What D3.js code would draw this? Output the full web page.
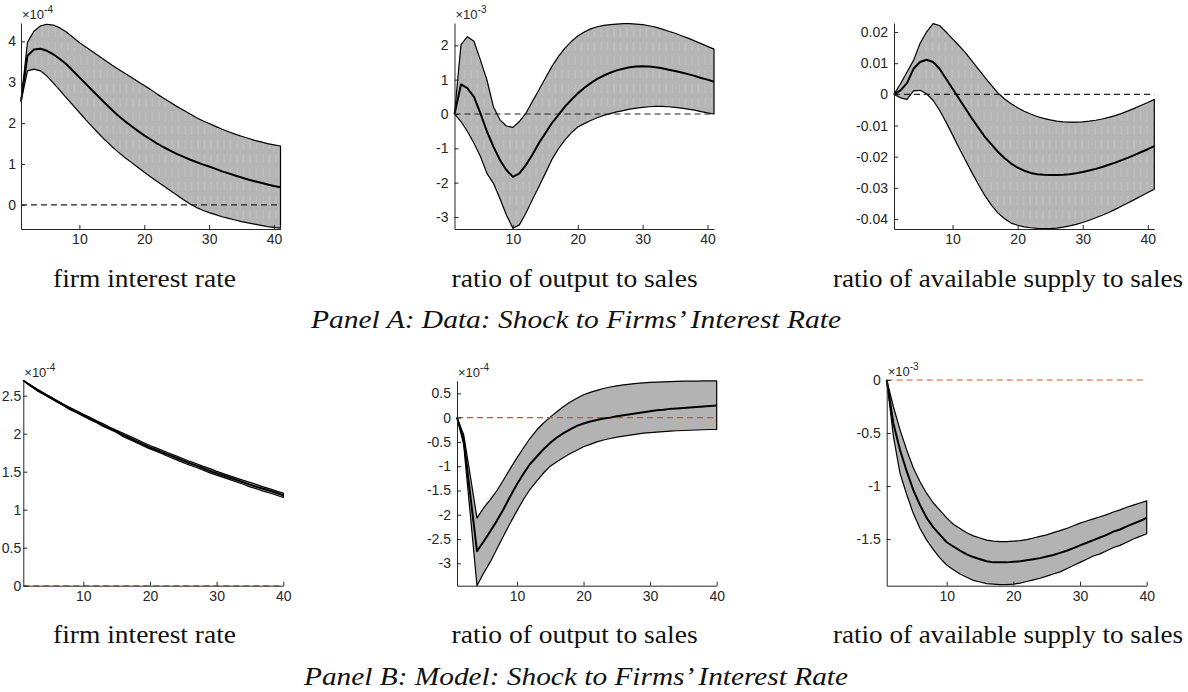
<!DOCTYPE html>
<html>
<head>
<meta charset="utf-8">
<script src="https://cdn.jsdelivr.net/npm/d3@7"></script>
<style>
  body { margin: 0; background: #fff; }
</style>
</head>
<body>
<svg id="fig" width="1188" height="692"></svg>
<script>
// ---- Panel A: data (periods 1..41) ----
const a1Mean  = [2.53,3.65,3.80,3.82,3.77,3.68,3.57,3.44,3.28,3.12,2.96,2.80,2.64,2.48,2.33,2.18,2.05,1.93,1.81,1.70,1.60,1.50,1.41,1.33,1.25,1.18,1.11,1.05,0.99,0.94,0.88,0.82,0.77,0.72,0.67,0.62,0.58,0.54,0.50,0.46,0.43];
const a1Upper = [2.53,3.98,4.25,4.38,4.42,4.40,4.33,4.23,4.10,3.97,3.86,3.75,3.64,3.53,3.42,3.32,3.22,3.12,3.02,2.92,2.82,2.71,2.61,2.51,2.41,2.32,2.23,2.14,2.06,1.99,1.92,1.85,1.79,1.73,1.68,1.63,1.58,1.54,1.50,1.47,1.44];
const a1Lower = [2.53,3.28,3.32,3.28,3.15,2.98,2.80,2.62,2.44,2.26,2.08,1.91,1.74,1.58,1.43,1.29,1.16,1.04,0.92,0.80,0.68,0.57,0.46,0.35,0.24,0.13,0.03,-0.06,-0.13,-0.19,-0.24,-0.29,-0.33,-0.37,-0.41,-0.44,-0.47,-0.50,-0.53,-0.55,-0.57];

const a2Mean  = [0,0.86,0.75,0.50,0.02,-0.51,-0.95,-1.34,-1.63,-1.83,-1.73,-1.49,-1.19,-0.85,-0.56,-0.27,-0.03,0.21,0.41,0.60,0.76,0.90,1.02,1.12,1.20,1.27,1.32,1.36,1.38,1.39,1.38,1.36,1.33,1.29,1.25,1.21,1.16,1.11,1.05,1.00,0.94];
const a2Upper = [0,2.02,2.25,2.12,1.57,0.99,0.21,-0.17,-0.35,-0.39,-0.22,0.02,0.36,0.70,1.04,1.38,1.67,1.91,2.11,2.27,2.39,2.48,2.54,2.58,2.60,2.62,2.63,2.63,2.62,2.60,2.57,2.53,2.47,2.41,2.35,2.28,2.21,2.13,2.05,1.97,1.89];
const a2Lower = [0,-0.22,-0.51,-0.85,-1.24,-1.73,-2.02,-2.46,-2.94,-3.33,-3.23,-2.89,-2.50,-2.12,-1.73,-1.33,-1.02,-0.76,-0.55,-0.38,-0.28,-0.19,-0.11,-0.04,0.01,0.06,0.10,0.14,0.17,0.19,0.21,0.22,0.22,0.21,0.19,0.17,0.14,0.11,0.07,0.03,0.0];

const a3Mean  = [0,0.0013,0.0036,0.0082,0.0104,0.0111,0.0104,0.0082,0.0050,0.0018,-0.0014,-0.0046,-0.0078,-0.0108,-0.0137,-0.0161,-0.0185,-0.0205,-0.0222,-0.0235,-0.0245,-0.0252,-0.0256,-0.0258,-0.0259,-0.0259,-0.0258,-0.0256,-0.0253,-0.0249,-0.0244,-0.0239,-0.0233,-0.0226,-0.0219,-0.0211,-0.0203,-0.0194,-0.0185,-0.0176,-0.0166];
const a3Upper = [0,0.0034,0.0072,0.0109,0.0163,0.0200,0.0227,0.0221,0.0200,0.0178,0.0156,0.0133,0.0107,0.0080,0.0054,0.0028,0.0004,-0.0015,-0.0030,-0.0043,-0.0054,-0.0063,-0.0071,-0.0077,-0.0082,-0.0086,-0.0088,-0.0089,-0.0089,-0.0088,-0.0086,-0.0083,-0.0079,-0.0074,-0.0068,-0.0061,-0.0053,-0.0044,-0.0035,-0.0026,-0.0016];
const a3Lower = [0,-0.0011,-0.0016,0.0011,0.0013,0.0002,-0.0019,-0.0051,-0.0089,-0.0130,-0.0172,-0.0212,-0.0252,-0.0290,-0.0326,-0.0356,-0.0381,-0.0399,-0.0413,-0.0420,-0.0425,-0.0428,-0.0430,-0.0431,-0.0431,-0.0429,-0.0426,-0.0422,-0.0417,-0.0411,-0.0404,-0.0396,-0.0388,-0.0379,-0.0369,-0.0358,-0.0348,-0.0337,-0.0326,-0.0315,-0.0304];

// ---- Panel B: model (periods 1..40) ----
const b1Mean  = [2.70,2.64,2.58,2.53,2.48,2.43,2.38,2.33,2.29,2.245,2.20,2.16,2.11,2.07,2.03,1.98,1.94,1.90,1.86,1.82,1.785,1.75,1.715,1.68,1.645,1.61,1.58,1.545,1.51,1.48,1.45,1.42,1.39,1.36,1.33,1.30,1.275,1.25,1.22,1.19];
const b1Upper = [2.70,2.645,2.59,2.54,2.49,2.44,2.39,2.345,2.30,2.255,2.215,2.17,2.13,2.085,2.045,2.005,1.965,1.925,1.885,1.845,1.81,1.775,1.74,1.705,1.67,1.635,1.605,1.57,1.54,1.505,1.475,1.445,1.415,1.385,1.36,1.33,1.30,1.275,1.245,1.22];
const b1Lower = [2.70,2.635,2.57,2.52,2.47,2.42,2.37,2.315,2.275,2.23,2.185,2.145,2.095,2.055,2.015,1.96,1.92,1.88,1.84,1.80,1.765,1.73,1.69,1.655,1.62,1.585,1.555,1.52,1.485,1.455,1.425,1.395,1.365,1.335,1.30,1.275,1.245,1.22,1.19,1.16];

const b2Mean  = [0,-0.45,-1.60,-2.75,-2.55,-2.34,-2.12,-1.88,-1.62,-1.37,-1.15,-0.95,-0.80,-0.65,-0.52,-0.41,-0.32,-0.24,-0.17,-0.12,-0.08,-0.05,-0.02,0.0,0.03,0.05,0.07,0.09,0.11,0.13,0.15,0.16,0.18,0.19,0.20,0.21,0.22,0.23,0.24,0.25];
const b2Upper = [0,-0.35,-1.20,-2.07,-1.86,-1.69,-1.50,-1.28,-1.05,-0.83,-0.62,-0.42,-0.25,-0.11,0.01,0.12,0.23,0.32,0.40,0.47,0.52,0.56,0.60,0.63,0.655,0.675,0.69,0.705,0.715,0.725,0.73,0.735,0.74,0.745,0.75,0.75,0.75,0.755,0.755,0.755];
const b2Lower = [0,-0.55,-2.00,-3.46,-3.20,-2.97,-2.70,-2.43,-2.17,-1.92,-1.68,-1.47,-1.30,-1.14,-1.00,-0.91,-0.82,-0.74,-0.67,-0.60,-0.55,-0.50,-0.46,-0.43,-0.40,-0.38,-0.36,-0.34,-0.32,-0.31,-0.30,-0.29,-0.28,-0.27,-0.265,-0.26,-0.255,-0.25,-0.245,-0.24];

const b3Mean  = [0,-0.41,-0.66,-0.86,-1.04,-1.18,-1.30,-1.39,-1.46,-1.53,-1.57,-1.61,-1.645,-1.67,-1.69,-1.71,-1.72,-1.72,-1.72,-1.715,-1.71,-1.70,-1.69,-1.68,-1.665,-1.65,-1.63,-1.61,-1.585,-1.56,-1.535,-1.51,-1.485,-1.46,-1.43,-1.41,-1.38,-1.355,-1.33,-1.30];
const b3Upper = [0,-0.25,-0.47,-0.66,-0.83,-0.96,-1.07,-1.16,-1.23,-1.30,-1.36,-1.40,-1.44,-1.47,-1.49,-1.51,-1.52,-1.525,-1.525,-1.52,-1.515,-1.505,-1.49,-1.475,-1.46,-1.44,-1.42,-1.40,-1.375,-1.35,-1.33,-1.31,-1.29,-1.27,-1.245,-1.225,-1.20,-1.18,-1.16,-1.14];
const b3Lower = [0,-0.53,-0.88,-1.08,-1.26,-1.40,-1.51,-1.60,-1.68,-1.745,-1.79,-1.83,-1.86,-1.89,-1.905,-1.92,-1.925,-1.93,-1.93,-1.925,-1.915,-1.90,-1.885,-1.87,-1.85,-1.83,-1.81,-1.78,-1.75,-1.72,-1.69,-1.66,-1.64,-1.61,-1.58,-1.56,-1.53,-1.50,-1.475,-1.45];

// ---- ticks and labels ----
const xTicks = [10, 20, 30, 40];
const a1YTicks = [0, 1, 2, 3, 4];
const a2YTicks = [-3, -2, -1, 0, 1, 2];
const a3YTicks = [-0.04, -0.03, -0.02, -0.01, 0, 0.01, 0.02];
const b1YTicks = [0, 0.5, 1, 1.5, 2, 2.5];
const b2YTicks = [-3, -2.5, -2, -1.5, -1, -0.5, 0, 0.5];
const b3YTicks = [-1.5, -1, -0.5, 0];
const captions = ["firm interest rate", "ratio of output to sales", "ratio of available supply to sales"];
const panelTitles = ["Panel A: Data: Shock to Firms\u2019 Interest Rate", "Panel B: Model: Shock to Firms\u2019 Interest Rate"];

const svg = d3.select("#fig");
const defs = svg.append("defs");

// faint vertical striping seen in the data bands
const pat = defs.append("pattern")
  .attr("id", "stripes")
  .attr("patternUnits", "userSpaceOnUse")
  .attr("width", 6.5).attr("height", 14);
pat.append("rect").attr("width", 6.5).attr("height", 14).attr("fill", "#b5b5b5");
pat.append("line")
  .attr("x1", 3).attr("x2", 3).attr("y1", 0).attr("y2", 9)
  .attr("stroke", "#c4c4c4").attr("stroke-width", 1);

const panels = [
  {mean: a1Mean, upper: a1Upper, lower: a1Lower, xMax: 41, yDomain: [-0.59, 4.45], yTicks: a1YTicks,
   left: 21, right: 280.5, top: 23, bottom: 229, exp: "-4", zero: "#222", fill: "url(#stripes)", pad: 5},
  {mean: a2Mean, upper: a2Upper, lower: a2Lower, xMax: 41, yDomain: [-3.35, 2.65], yTicks: a2YTicks,
   left: 454.5, right: 714, top: 23, bottom: 229, exp: "-3", zero: "#222", fill: "url(#stripes)", pad: 6},
  {mean: a3Mean, upper: a3Upper, lower: a3Lower, xMax: 41, yDomain: [-0.0432, 0.0229], yTicks: a3YTicks,
   left: 894, right: 1154.3, top: 23, bottom: 229, exp: null, zero: "#222", fill: "url(#stripes)", pad: 6},
  {mean: b1Mean, upper: b1Upper, lower: b1Lower, xMax: 40, yDomain: [0, 2.7], yTicks: b1YTicks,
   left: 23.3, right: 283.3, top: 380.5, bottom: 585.7, exp: "-4", zero: "#D95319", fill: "#b3b3b3", pad: 2},
  {mean: b2Mean, upper: b2Upper, lower: b2Lower, xMax: 40, yDomain: [-3.46, 0.76], yTicks: b2YTicks,
   left: 457, right: 716.7, top: 380.7, bottom: 585.7, exp: "-4", zero: "#D95319", fill: "#b3b3b3", pad: 6},
  {mean: b3Mean, upper: b3Upper, lower: b3Lower, xMax: 40, yDomain: [-1.94, 0], yTicks: b3YTicks,
   left: 886.7, right: 1146.7, top: 380, bottom: 585.7, exp: "-3", zero: "#D95319", fill: "#b3b3b3", pad: 6}
];

const tickFont = "'Liberation Sans', Arial, Helvetica, sans-serif";
const textFont = "'Liberation Serif', 'Times New Roman', serif";

function drawPanel(p) {
  const x = d3.scaleLinear().domain([1, p.xMax]).range([p.left, p.right]);
  const y = d3.scaleLinear().domain(p.yDomain).range([p.bottom, p.top]);
  const pts = p.mean.map((m, i) => ({t: i + 1, m: m, hi: p.upper[i], lo: p.lower[i]}));
  const g = svg.append("g");

  // band, outlined like a closed polygon
  g.append("path")
    .datum(pts)
    .attr("d", d3.area().x(d => x(d.t)).y0(d => y(d.lo)).y1(d => y(d.hi)))
    .attr("fill", p.fill)
    .attr("stroke", "#000")
    .attr("stroke-width", 1.2)
    .attr("stroke-linejoin", "round");

  // zero reference
  g.append("line")
    .attr("x1", x(1)).attr("x2", x(p.xMax))
    .attr("y1", y(0)).attr("y2", y(0))
    .attr("stroke", p.zero)
    .attr("stroke-width", 1.1)
    .attr("stroke-dasharray", "6,4");

  // point estimate
  g.append("path")
    .datum(pts)
    .attr("d", d3.line().x(d => x(d.t)).y(d => y(d.m)))
    .attr("fill", "none")
    .attr("stroke", "#000")
    .attr("stroke-width", 2)
    .attr("stroke-linejoin", "round");

  // axes (MATLAB style: inward ticks, no box)
  const yAxis = g.append("g")
    .attr("transform", `translate(${p.left},0)`)
    .call(d3.axisLeft(y).tickValues(p.yTicks).tickFormat(d => String(d))
      .tickSize(-4).tickSizeOuter(0).tickPadding(p.pad));
  const xAxis = g.append("g")
    .attr("transform", `translate(0,${p.bottom})`)
    .call(d3.axisBottom(x).tickValues(xTicks).tickFormat(d => String(d))
      .tickSize(-4).tickSizeOuter(0).tickPadding(5));
  [yAxis, xAxis].forEach(ax => {
    ax.attr("font-family", tickFont).attr("font-size", 14);
    ax.select(".domain").attr("stroke", "#262626").attr("stroke-width", 1);
    ax.selectAll(".tick line").attr("stroke", "#262626");
    ax.selectAll(".tick text").attr("fill", "#262626");
  });

  if (p.exp) {
    const t = g.append("text")
      .attr("x", p.left + 1).attr("y", p.top - 4)
      .attr("font-family", tickFont)
      .attr("font-size", 13).attr("fill", "#262626");
    t.append("tspan").text("\u00d710");
    t.append("tspan").attr("dy", -6).attr("font-size", 10).text(p.exp);
  }
}

panels.forEach(drawPanel);

// captions under each plot and the panel titles
const capX = [144.5, 574.6, 1008];
const capW = [183, 246, 350];
const capY = [287, 643];
const titleY = [328, 685];
const titleW = [530, 544];

capY.forEach((cy, row) => {
  svg.selectAll(null)
    .data(captions)
    .enter()
    .append("text")
    .attr("x", (d, i) => capX[i])
    .attr("y", cy)
    .attr("text-anchor", "middle")
    .attr("font-family", textFont)
    .attr("font-size", 25)
    .attr("fill", "#111")
    .attr("textLength", (d, i) => capW[i])
    .attr("lengthAdjust", "spacingAndGlyphs")
    .text(d => d);

  svg.append("text")
    .attr("x", 576)
    .attr("y", titleY[row])
    .attr("text-anchor", "middle")
    .attr("font-family", textFont)
    .attr("font-style", "italic")
    .attr("font-size", 25)
    .attr("fill", "#111")
    .attr("textLength", titleW[row])
    .attr("lengthAdjust", "spacingAndGlyphs")
    .text(panelTitles[row]);
});
</script>
</body>
</html>
